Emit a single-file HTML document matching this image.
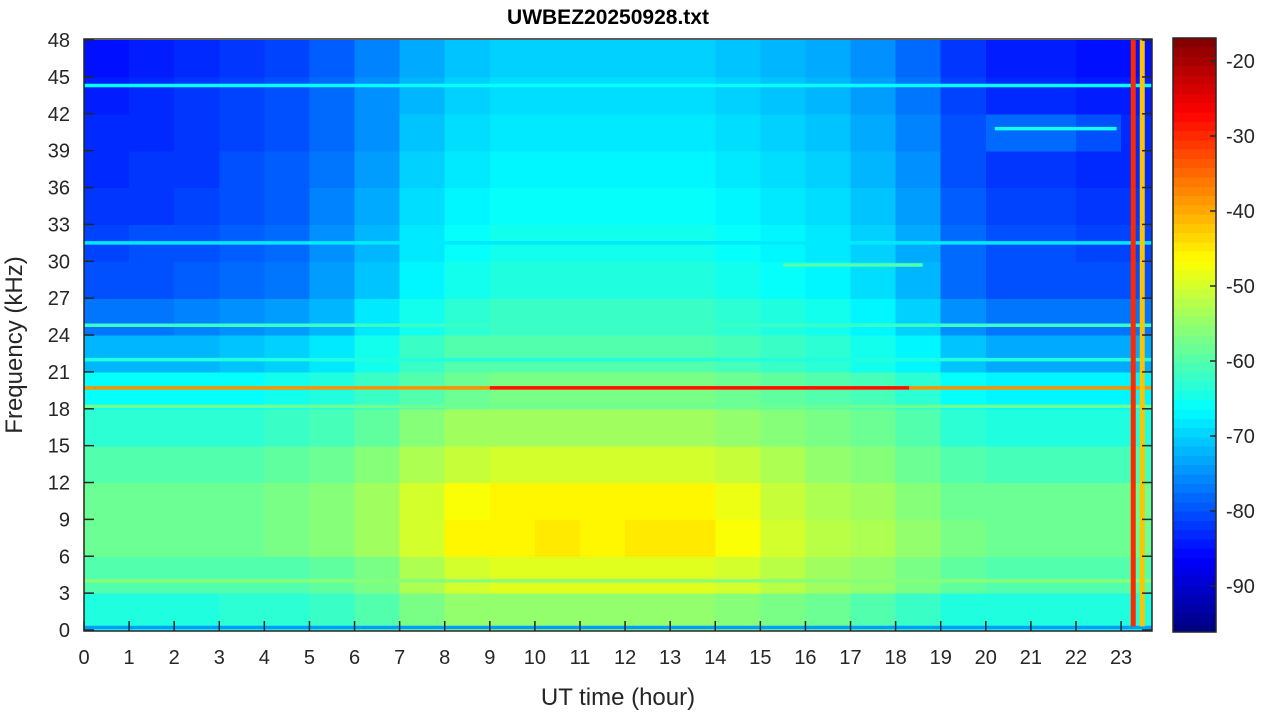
<!DOCTYPE html>
<html><head><meta charset="utf-8"><style>
body{margin:0;background:#fff;width:1264px;height:715px;overflow:hidden}
svg text{font-family:"Liberation Sans",sans-serif;fill:#262626}
</style></head><body>
<svg id="chart" width="1264" height="715" viewBox="0 0 1264 715" xmlns="http://www.w3.org/2000/svg">
<defs><clipPath id="pc"><rect x="84" y="39" width="1068" height="592"/></clipPath></defs>
<g id="cells" clip-path="url(#pc)"></g>
<g id="lines" clip-path="url(#pc)"></g>
<rect x="84" y="39" width="1068" height="592" fill="none" stroke="#262626" stroke-width="1.5"/>
<g id="xt"></g>
<g id="yt"></g>
<text x="608" y="24" text-anchor="middle" font-size="21" font-weight="bold" style="fill:#000">UWBEZ20250928.txt</text>
<text x="618" y="705" text-anchor="middle" font-size="24">UT time (hour)</text>
<text transform="translate(22,345) rotate(-90)" text-anchor="middle" font-size="24">Frequency (kHz)</text>
<g id="cb"></g>
</svg>
<script>
const hours=[0,1,2,3,4,5,6,7,8,9,10,11,12,13,14,15,16,17,18,19,20,21,22,23];
const freqBands=[0,3,6,9,12,15,18,21,24,27,30,33,36,39,42,45];
const power=[
[-64,-64,-64,-63,-63,-62,-60,-57,-55,-55,-55,-55,-55,-55,-56,-57,-58,-60,-62,-64,-64,-64,-64,-64],
[-60,-60,-60,-60,-60,-59,-57,-53,-50,-49,-49,-49,-49,-49,-50,-52,-54,-55,-57,-59,-60,-60,-60,-60],
[-58,-58,-58,-58,-57,-56,-54,-50,-46,-46,-45,-46,-45,-45,-47,-50,-52,-53,-55,-57,-58,-58,-58,-58],
[-58,-58,-58,-58,-57,-56,-54,-50,-47,-46,-46,-46,-46,-46,-48,-51,-53,-54,-56,-58,-58,-58,-58,-58],
[-60,-60,-60,-60,-59,-58,-56,-53,-51,-50,-50,-50,-50,-50,-51,-53,-55,-56,-58,-60,-61,-61,-61,-61],
[-63,-63,-63,-63,-62,-61,-59,-56,-54,-54,-54,-54,-54,-54,-55,-56,-57,-58,-60,-63,-64,-64,-64,-64],
[-66,-66,-66,-66,-65,-64,-62,-60,-58,-57,-57,-57,-57,-57,-58,-59,-60,-61,-63,-66,-67,-67,-67,-67],
[-72,-72,-72,-71,-70,-68,-65,-62,-60,-60,-60,-60,-60,-60,-61,-62,-63,-65,-67,-71,-73,-73,-73,-73],
[-77,-77,-76,-75,-74,-72,-68,-65,-63,-62,-62,-62,-62,-62,-63,-64,-65,-67,-70,-75,-77,-77,-77,-77],
[-80,-80,-79,-78,-77,-74,-71,-67,-65,-64,-64,-64,-64,-64,-65,-66,-67,-69,-72,-78,-80,-80,-80,-80],
[-81,-80,-80,-79,-78,-75,-72,-68,-66,-65,-65,-65,-65,-65,-66,-67,-68,-70,-73,-78,-80,-80,-81,-81],
[-82,-82,-81,-80,-79,-76,-73,-69,-67,-66,-66,-66,-66,-66,-67,-68,-69,-71,-74,-79,-81,-81,-82,-82],
[-83,-82,-82,-80,-79,-77,-74,-70,-68,-67,-67,-67,-67,-67,-68,-69,-70,-72,-75,-80,-82,-82,-83,-83],
[-83,-83,-82,-81,-80,-78,-75,-71,-69,-68,-68,-68,-68,-68,-69,-70,-71,-73,-76,-80,-78,-78,-80,-83],
[-84,-83,-82,-81,-80,-78,-75,-72,-70,-69,-69,-69,-69,-69,-70,-71,-72,-74,-77,-81,-83,-83,-84,-84],
[-85,-84,-83,-82,-81,-79,-76,-73,-71,-70,-70,-70,-70,-70,-71,-72,-73,-75,-78,-82,-84,-84,-85,-85]];
const lineFreq=[19.7,19.7,18.2,24.8,22.0,44.3,31.5,4.0,0.2,29.7,40.8];
const lineStart=[0,9,0,0,0,0,0,0,0,15.5,20.2];
const lineEnd=[23.7,18.3,23.7,23.7,23.7,23.7,23.7,23.7,23.7,18.6,22.9];
const lineVal=[-38,-28,-58,-62,-64,-66,-68,-56,-74,-60,-65];
const vHour=[23.27,23.47];
const vVal=[-30,-42];
const xTicks=[0,1,2,3,4,5,6,7,8,9,10,11,12,13,14,15,16,17,18,19,20,21,22,23];
const yTicks=[0,3,6,9,12,15,18,21,24,27,30,33,36,39,42,45,48];
const cbTicks=[-20,-30,-40,-50,-60,-70,-80,-90];

const NS="http://www.w3.org/2000/svg";
const x=h=>84+h*45.09, y=f=>630-f*12.29;
const cmin=-96.1,cmax=-16.9;
function jet(v){let t=(v-cmin)/(cmax-cmin);t=Math.max(0,Math.min(1,t));
 const c=a=>Math.round(255*Math.max(0,Math.min(1,1.5-Math.abs(4*t-a))));
 return `rgb(${c(3)},${c(2)},${c(1)})`;}
function mk(tag,at,par){const e=document.createElementNS(NS,tag);for(const k in at)e.setAttribute(k,at[k]);par.appendChild(e);return e;}
const cells=document.getElementById('cells');
power.forEach((row,i)=>row.forEach((v,j)=>{
 const r=mk('rect',{x:x(hours[j]),y:y(freqBands[i]+3),width:45.6,height:3*12.29+0.6,fill:jet(v),'shape-rendering':'crispEdges'},cells);
 
 
}));
const lines=document.getElementById('lines');
lineFreq.forEach((f,i)=>{
 const l=mk('line',{x1:x(lineStart[i]),x2:x(lineEnd[i]),y1:y(f),y2:y(f),stroke:jet(lineVal[i]),'stroke-width':3.5},lines);
 
 
});
vHour.forEach((h,i)=>{
 const l=mk('line',{x1:x(h),x2:x(h),y1:y(48),y2:y(0.3),stroke:jet(vVal[i]),'stroke-width':5},lines);
 
 
});
const xt=document.getElementById('xt');
xTicks.forEach(h=>{
 mk('line',{x1:x(h),x2:x(h),y1:631,y2:621,stroke:'#262626','stroke-width':1.5},xt);
 const t=mk('text',{x:x(h),y:664,'text-anchor':'middle','font-size':20},xt);t.textContent=h;
 
 
});
const yt=document.getElementById('yt');
yTicks.forEach(f=>{
 mk('line',{x1:84,x2:94,y1:y(f),y2:y(f),stroke:'#262626','stroke-width':1.5},yt);
 mk('line',{x1:1152,x2:1142,y1:y(f),y2:y(f),stroke:'#262626','stroke-width':1.5},yt);
 const t=mk('text',{x:70,y:y(f)+7,'text-anchor':'end','font-size':20},yt);t.textContent=f;
 
 
});
const cb=document.getElementById('cb');
const cy=v=>61+(-20-v)*7.5;
for(let k=0;k<64;k++){const v0=cmin+(cmax-cmin)*k/64,v1=cmin+(cmax-cmin)*(k+1)/64;
 const r=mk('rect',{x:1173,y:cy(v1),width:43,height:cy(v0)-cy(v1)+0.5,fill:jet((v0+v1)/2),'shape-rendering':'crispEdges'},cb);
 
 }
mk('rect',{x:1173,y:38,width:43,height:594,fill:'none',stroke:'#262626','stroke-width':1.5},cb);
cbTicks.forEach(v=>{
 mk('line',{x1:1216,x2:1210,y1:cy(v),y2:cy(v),stroke:'#262626','stroke-width':1.5},cb);
 const t=mk('text',{x:1226,y:cy(v)+7,'font-size':20},cb);t.textContent=v;
 
 
});
</script>
</body></html>
